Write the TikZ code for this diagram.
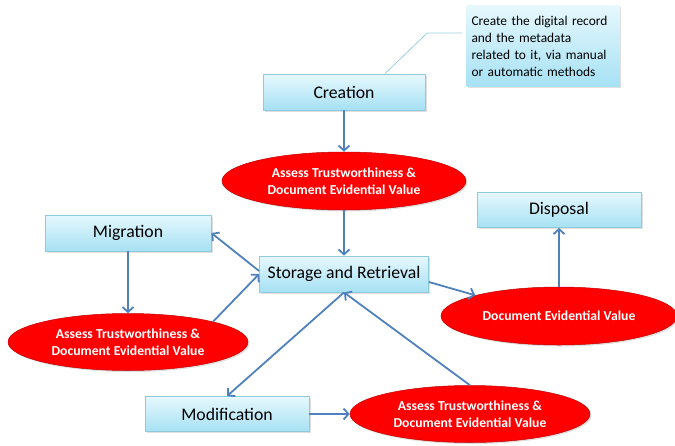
\documentclass[tikz,border=0pt]{standalone}
\usepackage{fontspec}
\setmainfont{Carlito}
\usepackage{tikz}
\usetikzlibrary{
  arrows.meta,
  shapes.geometric,
  calc,
  shadows
}
\definecolor{lcBoxTop}{HTML}{E6F8FD}
\definecolor{lcBoxBot}{HTML}{A6E1F4}
\definecolor{lcBoxLine}{HTML}{8FCBDD}
\definecolor{lcRed}{HTML}{FF0000}
\definecolor{lcRedLine}{HTML}{C00000}
\definecolor{lcArrow}{HTML}{4F81BD}
\definecolor{lcLeader}{HTML}{9ACFE0}
\tikzset{
  lcnode/.style={
    draw=lcBoxLine, line width=0.8pt, top color=lcBoxTop, bottom color=lcBoxBot,
    inner sep=0pt, align=center,
    drop shadow={shadow xshift=1.5pt, shadow yshift=-1.5pt, opacity=0.25}
  },
  stage/.style={lcnode, rectangle, font=\fontsize{17.7}{20}\selectfont},
  note/.style={lcnode, rectangle, draw=none, font=\fontsize{13.4}{17}\selectfont,
    align=left, text width=143pt, minimum width=153pt, minimum height=81pt},
  assess/.style={
    ellipse, draw=lcRedLine, line width=0.5pt, fill=lcRed, text=white,
    inner sep=0pt, align=center, font=\fontsize{13.7}{16.5}\selectfont\bfseries,
    drop shadow={shadow xshift=1.5pt, shadow yshift=-1.5pt, opacity=0.25}
  },
  flow/.style={-{Straight Barb[length=5pt, width=11pt]}, line width=1.8pt, lcArrow},
  leader/.style={lcLeader, line width=0.8pt}
}
\begin{document}
\begin{tikzpicture}[x=1pt, y=-1pt]
  \useasboundingbox (0,0) rectangle (675,445);
  \node[stage, minimum width=162pt, minimum height=36pt] (crt) at (344,92) {Creation};
  \node[note] (txt) at (543,46) {Create the digital record\\and the metadata\\related to it, via manual\\or automatic methods};
  \node[assess, minimum width=244pt, minimum height=58pt] (ev1) at (344,181) {Assess Trustworthiness \&\\Document Evidential Value};
  \node[stage, minimum width=169pt, minimum height=36pt] (sto) at (344,274) {Storage and Retrieval};
  \node[stage, minimum width=166pt, minimum height=36pt] (mig) at (128,233) {Migration};
  \node[assess, minimum width=240pt, minimum height=57pt] (ev2) at (128,342) {Assess Trustworthiness \&\\Document Evidential Value};
  \node[stage, minimum width=164pt, minimum height=35pt] (dsp) at (559,210) {Disposal};
  \node[assess, minimum width=236pt, minimum height=58pt] (ev3) at (559,316) {Document Evidential Value};
  \node[stage, minimum width=164pt, minimum height=35pt] (mod) at (227,414) {Modification};
  \node[assess, minimum width=240pt, minimum height=57pt] (ev4) at (470,414) {Assess Trustworthiness \&\\Document Evidential Value};

  % callout leader
  \draw[leader] ([xshift=41pt]crt.north) -- ($(txt.west)+(-39,-13)$) -- ($(txt.west)+(-4,-13)$);

  \foreach \s/\e in {crt.south/ev1.north, ev1.south/sto.north, mig.south/ev2.north,
                     ev3.north/dsp.south, sto.south/mod.north, mod.east/ev4.west,
                     ev4.north/sto.south, ev2.north east/sto.west}{\draw[flow] (\s) -- (\e);}
  \draw[flow] ([yshift=3pt]sto.west) -- (mig.east);
  \draw[flow] ([yshift=-8pt]sto.east) -- (ev3.north west);
\end{tikzpicture}
\end{document}
